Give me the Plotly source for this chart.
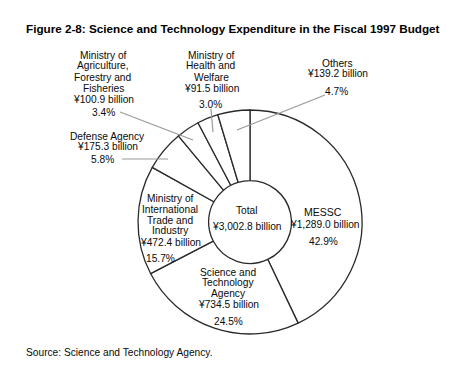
import plotly.graph_objects as go

# page body has an 8px margin, so the figure is drawn 8px in from the window edge
OFF = 8
W, H = 464 - OFF, 378 - OFF

# Data
ministries = ["MESSC", "Science and Technology Agency",
              "Ministry of International Trade and Industry", "Defense Agency",
              "Ministry of Agriculture, Forestry and Fisheries",
              "Ministry of Health and Welfare", "Others"]
amounts = [1289.0, 734.5, 472.4, 175.3, 100.9, 91.5, 139.2]   # ¥ billion
amount_labels = ["¥1,289.0 billion", "¥734.5 billion", "¥472.4 billion",
                 "¥175.3 billion", "¥100.9 billion", "¥91.5 billion", "¥139.2 billion"]
shares = ["42.9%", "24.5%", "15.7%", "5.8%", "3.4%", "3.0%", "4.7%"]
total_label = "¥3,002.8 billion"


def px(x):
    return (x - OFF) / W


def py(y):
    return 1 - (y - OFF) / H


# pie geometry in window pixels
cx, cy, R = 250, 222, 112

fig = go.Figure(go.Pie(
    labels=ministries, values=amounts, sort=False, direction="clockwise",
    rotation=0, hole=0.37, textinfo="none", hoverinfo="none",
    marker=dict(colors=["white"] * len(amounts), line=dict(color="#2a2a2a", width=1.3)),
    domain=dict(x=[px(cx - R), px(cx + R)], y=[py(cy + R), py(cy - R)]),
    showlegend=False,
))

F = "Liberation Sans, Arial, sans-serif"
TC = "#0a0a0a"


def block(x, y0, lines, size=10.2, step=11):
    for i, t in enumerate(lines):
        fig.add_annotation(x=px(x), y=py(y0 + i * step), xref="paper", yref="paper",
                           text=t, showarrow=False, xanchor="center", yanchor="middle",
                           font=dict(family=F, size=size, color=TC))


block(323, 212, ["MESSC"], size=10.5)
block(325, 224.5, [amount_labels[0]])
block(323, 241, [shares[0]])
block(247, 211, ["Total"])
block(247, 226, [total_label])
block(228, 272, ["Science and", "Technology", "Agency", amount_labels[1]], step=10.7)
block(228, 321, [shares[1]])
block(170, 198, ["Ministry of", "International", "Trade and", "Industry", amount_labels[2]])
block(160, 258, [shares[2]])
block(107, 136, ["Defense Agency", amount_labels[3]])
block(102, 159, [shares[3]])
block(103, 55, ["Ministry of", "Agriculture,", "Forestry and", "Fisheries", amount_labels[4]])
block(103, 112, [shares[4]])
block(211, 55, ["Ministry of", "Health and", "Welfare", amount_labels[5]])
block(210, 104, [shares[5]])
block(337, 63, ["Others", amount_labels[6]])
block(336, 91, [shares[6]])

# leader lines
leaders = [((122, 159), (168, 159)),
           ((120, 112), (193, 140)),
           ((211, 109), (213, 132)),
           ((325, 95), (237, 130))]
for (x0, y0), (x1, y1) in leaders:
    fig.add_shape(type="line", xref="paper", yref="paper",
                  x0=px(x0), y0=py(y0), x1=px(x1), y1=py(y1),
                  line=dict(color="#9a9a9a", width=1.2))

# title and source
fig.add_annotation(x=px(24), y=py(28), xref="paper", yref="paper", xanchor="left",
                   yanchor="middle", showarrow=False,
                   text="<b>Figure 2-8: Science and Technology Expenditure in the Fiscal 1997 Budget</b>",
                   font=dict(family=F, size=11.7, color="#000"))
fig.add_annotation(x=px(24), y=py(352), xref="paper", yref="paper", xanchor="left",
                   yanchor="middle", showarrow=False,
                   text="Source: Science and Technology Agency.",
                   font=dict(family=F, size=10.2, color=TC))

fig.update_layout(width=W, height=H, margin=dict(l=0, r=0, t=0, b=0),
                  paper_bgcolor="white", plot_bgcolor="white")

fig.write_html("out.html")
